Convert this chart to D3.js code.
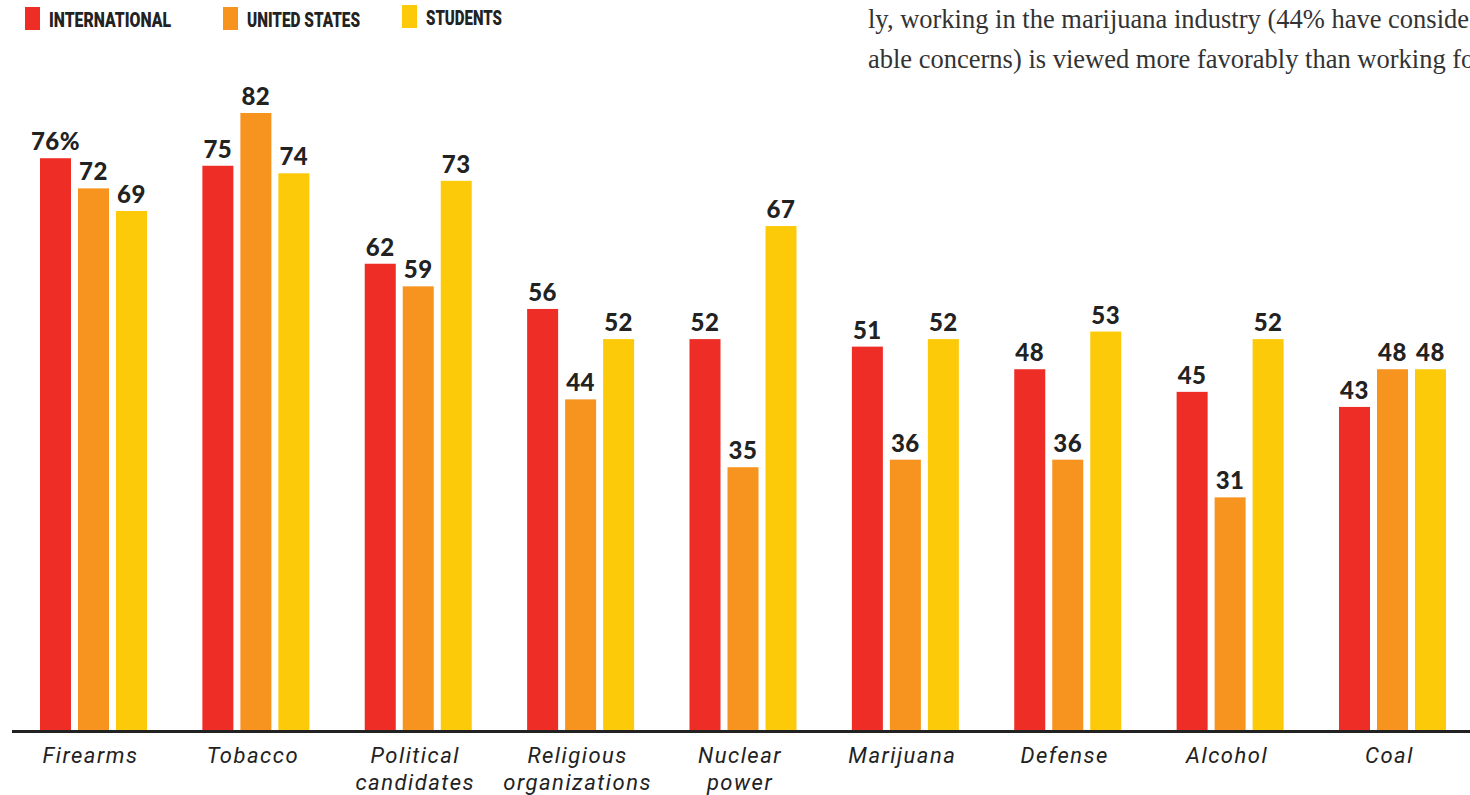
<!DOCTYPE html>
<html>
<head>
<meta charset="utf-8">
<script src="https://cdn.jsdelivr.net/npm/d3@7"></script>
<style>
  body { margin: 0; background: #fff; }
  svg { display: block; }
</style>
</head>
<body>
<div id="chart"></div>
<script>
// data
const categories = [["Firearms"], ["Tobacco"], ["Political", "candidates"], ["Religious", "organizations"],
    ["Nuclear", "power"], ["Marijuana"], ["Defense"], ["Alcohol"], ["Coal"]]
const seriesNames = ["INTERNATIONAL", "UNITED STATES", "STUDENTS"]
const international = [76, 75, 62, 56, 52, 51, 48, 45, 43]
const unitedStates = [72, 82, 59, 44, 35, 36, 36, 31, 48]
const students = [69, 74, 73, 52, 67, 52, 53, 52, 48]
const colors = ["#ee2d27", "#f6941f", "#fdca0a"]
const bodyText = ["ly, working in the marijuana industry (44% have conside",
    "able concerns) is viewed more favorably than working fo"]

const W = 1470, H = 795
const baseY = 731

const svg = d3.select("#chart")
    .append("svg")
    .attr("width", W)
    .attr("height", H)

const keys = categories.map(d => d.join(" "))
const rows = keys.map((k, i) => ({key: k, lines: categories[i], values: [international[i], unitedStates[i], students[i]]}))

// scales
const x0 = d3.scaleBand()
    .domain(keys)
    .range([40, 1446])
    .paddingInner(0.341)
    .paddingOuter(0)

const x1 = d3.scaleBand()
    .domain(d3.range(3))
    .range([0, x0.bandwidth()])
    .paddingInner(0.184)

const y = d3.scaleLinear()
    .domain([0, 82])
    .range([baseY, 113])

// bars
const groups = svg.selectAll("g.grp")
    .data(rows)
    .join("g")
    .attr("class", "grp")
    .attr("transform", d => `translate(${x0(d.key)},0)`)

groups.selectAll("rect")
    .data(d => d.values)
    .join("rect")
    .attr("x", (d, i) => x1(i))
    .attr("y", d => y(d))
    .attr("width", x1.bandwidth())
    .attr("height", d => baseY - y(d))
    .style("fill", (d, i) => colors[i])

// value labels
groups.selectAll("text.val")
    .data((d, gi) => d.values.map((v, i) => ({v: v, i: i, gi: gi})))
    .join("text")
    .attr("class", "val")
    .attr("x", d => x1(d.i) + x1.bandwidth() / 2)
    .attr("y", d => y(d.v) - 8)
    .attr("text-anchor", "middle")
    .style("font-family", "Lato, 'DejaVu Sans', sans-serif")
    .style("font-weight", 900)
    .style("font-size", "24px")
    .style("letter-spacing", "0.5px")
    .style("fill", "#222")
    .text(d => (d.gi === 0 && d.i === 0) ? d.v + "%" : d.v)

// baseline
svg.append("line")
    .attr("x1", 12).attr("x2", W)
    .attr("y1", baseY + 0.5).attr("y2", baseY + 0.5)
    .style("stroke", "#222")
    .style("stroke-width", 3)

// category labels
const cat = svg.selectAll("text.cat")
    .data(rows)
    .join("text")
    .attr("class", "cat")
    .attr("x", d => x0(d.key) + x0.bandwidth() / 2 - 3)
    .attr("y", 763)
    .attr("text-anchor", "middle")
    .style("font-family", "Roboto, 'DejaVu Sans', sans-serif")
    .style("font-style", "italic")
    .style("font-size", "22px")
    .style("letter-spacing", "1.5px")
    .style("fill", "#222")

cat.selectAll("tspan")
    .data(d => d.lines)
    .join("tspan")
    .attr("x", function() { return d3.select(this.parentNode).attr("x") })
    .attr("dy", (d, i) => i === 0 ? 0 : 27)
    .text(d => d)

// legend
const legendX = [25, 223, 402]
const legendY = [7, 7, 5]
const legendW = [122, 113, 76]
const legend = svg.selectAll("g.leg")
    .data(seriesNames)
    .join("g")
    .attr("class", "leg")
    .attr("transform", (d, i) => `translate(${legendX[i]},${legendY[i]})`)

legend.append("rect")
    .attr("width", 15)
    .attr("height", 23)
    .style("fill", (d, i) => colors[i])

legend.append("text")
    .attr("x", 24)
    .attr("y", 20)
    .attr("textLength", (d, i) => legendW[i])
    .attr("lengthAdjust", "spacingAndGlyphs")
    .style("font-family", "Roboto, 'DejaVu Sans', sans-serif")
    .style("font-weight", 900)
    .style("font-size", "20px")
    .style("fill", "#222")
    .text(d => d)

// running text at top right
svg.selectAll("text.body")
    .data(bodyText)
    .join("text")
    .attr("class", "body")
    .attr("x", 868)
    .attr("y", (d, i) => 28 + i * 40)
    .style("font-family", "'Liberation Serif', serif")
    .style("font-size", "26.5px")
    .style("fill", "#333")
    .text(d => d)
</script>
</body>
</html>
